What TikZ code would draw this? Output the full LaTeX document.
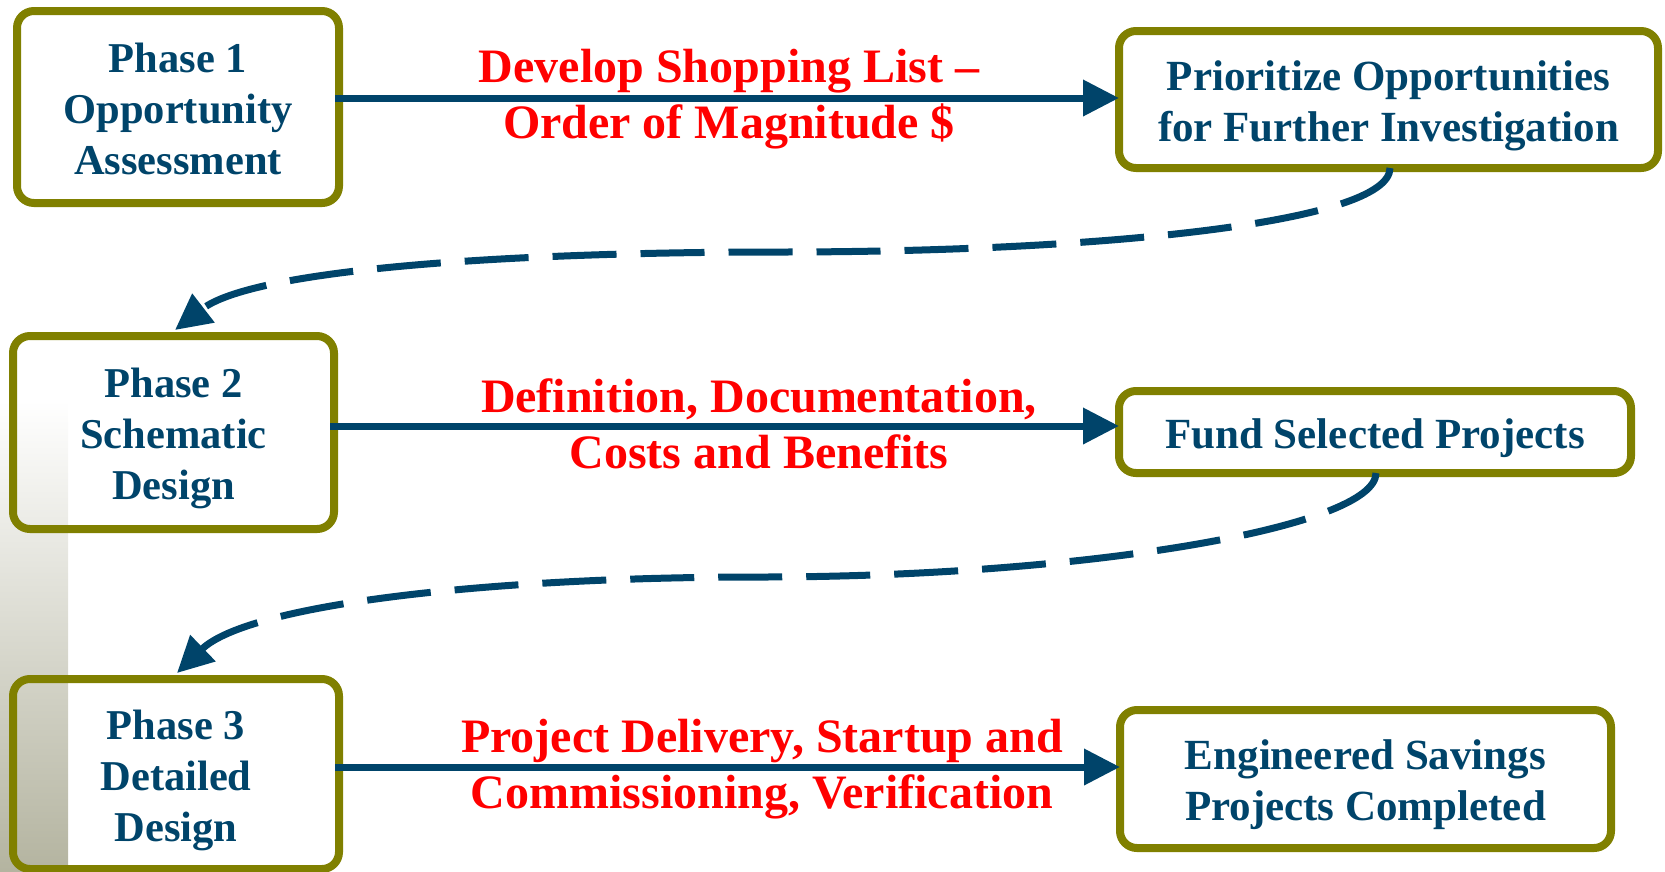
\documentclass[tikz,border=0pt]{standalone}
\usepackage{fontspec}
\setmainfont{Liberation Serif}
\usetikzlibrary{arrows.meta}

\definecolor{flowblue}{RGB}{0,68,106}
\definecolor{bordercol}{RGB}{128,128,0}
\definecolor{labelred}{RGB}{255,0,0}
\definecolor{stripgrey}{RGB}{180,180,160}

% invisible struts that fix line height/depth so text blocks centre consistently
\newcommand\boxstrut{\rule[-9.5pt]{0pt}{51pt}}
\newcommand\labstrut{\rule[-12pt]{0pt}{52pt}}

\tikzset{
  stage/.style={draw=bordercol, line width=8pt, rounded corners=17pt,
    inner sep=0pt, outer sep=0pt, align=center, text=flowblue,
    font=\fontsize{42.5}{51}\selectfont\bfseries},
  goal/.style={stage, font=\fontsize{43}{51}\selectfont\bfseries},
  flow/.style={draw=flowblue, line width=7pt,
    -{Triangle[length=36pt,width=35pt]}},
  link/.style={flow, dash pattern=on 64pt off 24pt},
  steplabel/.style={text=labelred, align=center, inner sep=0pt,
    font=\fontsize{48}{56}\selectfont\bfseries},
}

\begin{document}
\begin{tikzpicture}[x=1pt, y=-1pt]
\useasboundingbox (0,0) rectangle (1665,871);

% shaded strip along the lower left edge
\shade[top color=white, bottom color=stripgrey] (0,400) rectangle (68,871);

% stage boxes
\node[stage, minimum width=322pt, minimum height=192pt] (p1) at (178,107)
  {\boxstrut Phase 1\\\boxstrut Opportunity\\\boxstrut Assessment};
\node[goal, minimum width=539pt, minimum height=137pt] (b2) at (1388.5,99.5)
  {\boxstrut Prioritize Opportunities\\\boxstrut for Further Investigation};
\node[stage, minimum width=321pt, minimum height=193pt] (p2) at (173.5,432.5)
  {\boxstrut Phase 2\\\boxstrut Schematic\\\boxstrut Design};
\node[goal, minimum width=512pt, minimum height=82pt] (b4) at (1375,432)
  {\boxstrut Fund Selected Projects};
\node[stage, minimum width=326pt, minimum height=190pt] (p3) at (176,774)
  {\boxstrut Phase 3\\\boxstrut Detailed\\\boxstrut Design};
\node[goal, minimum width=491pt, minimum height=138pt] (b6) at (1365.5,779)
  {\boxstrut Engineered Savings\\\boxstrut Projects Completed};

% horizontal flows
\coordinate (a1) at ([xshift=-4pt,yshift=9pt]p1.east);
\coordinate (a2) at ([xshift=-4pt,yshift=6.5pt]p2.east);
\coordinate (a3) at ([xshift=-4pt,yshift=7pt]p3.east);
\draw[flow] (a1) -- (a1 -| b2.west);
\draw[flow] (a2) -- (a2 -| b4.west);
\draw[flow] (a3) -- (a3 -| b6.west);

% dashed links back to the next phase
\draw[link] ([xshift=1.5pt]b2.south)
  .. controls (1390,224) and (1090,252) .. (780,252)
  .. controls (510,252) and (254,269) .. ([xshift=1.5pt,yshift=6pt]p2.north);
\draw[link] ([xshift=1pt]b4.south)
  .. controls (1376,528) and (1080,577) .. (760,577)
  .. controls (490,577) and (249,604) .. ([xshift=1pt,yshift=6pt]p3.north);

% flow labels
\node[steplabel] (l1) at (729,96)
  {\labstrut Develop Shopping List –\\\labstrut Order of Magnitude \$};
\node[steplabel] (l2) at (759,426)
  {\labstrut Definition, Documentation,\\\labstrut Costs and Benefits};
\node[steplabel] (l3) at (762,766.5)
  {\labstrut Project Delivery, Startup and\\\labstrut Commissioning, Verification};
\end{tikzpicture}
\end{document}
